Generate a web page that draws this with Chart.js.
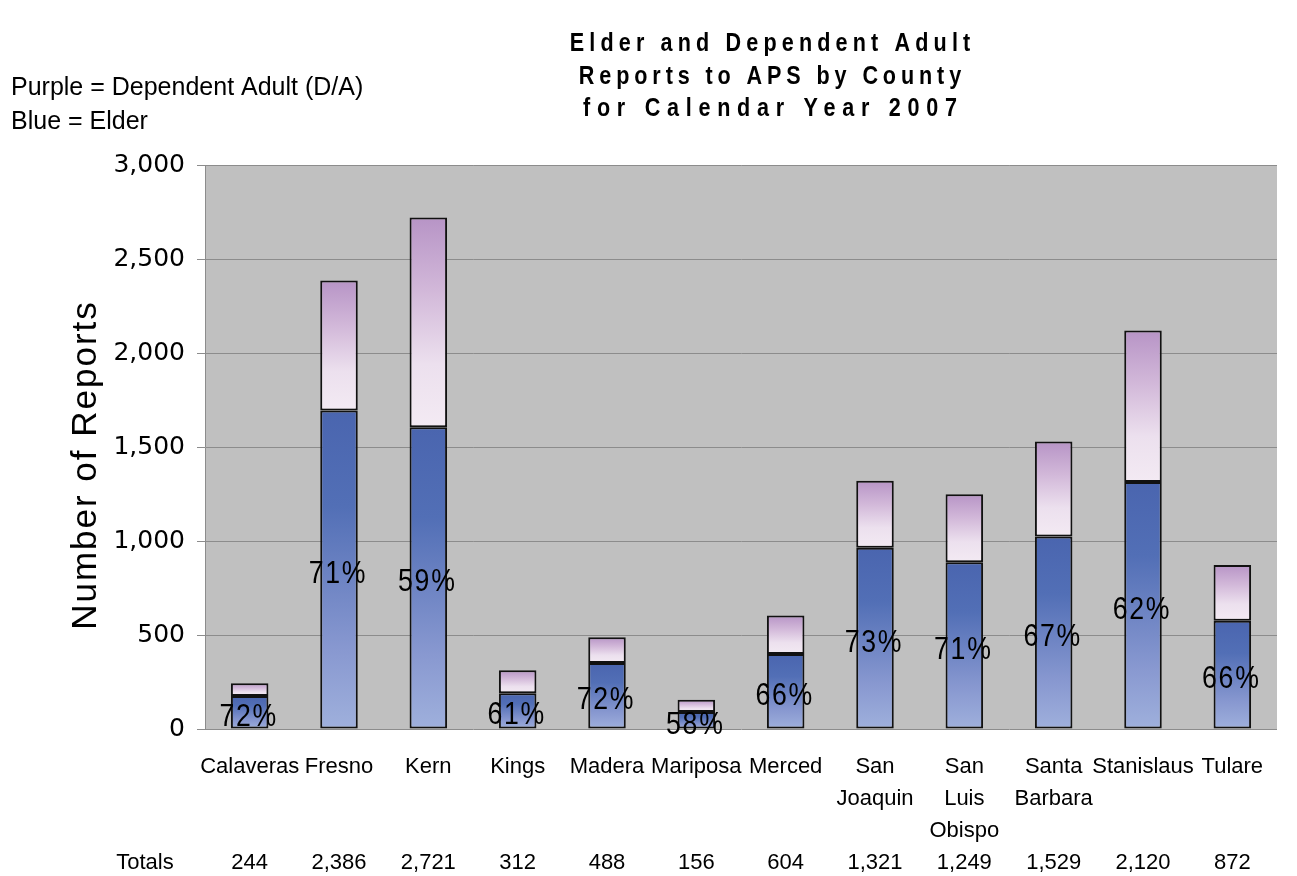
<!DOCTYPE html>
<html>
<head>
<meta charset="utf-8">
<script src="https://cdn.jsdelivr.net/npm/chart.js@4/dist/chart.umd.min.js"></script>
<style>
  html, body { margin: 0; padding: 0; background: #ffffff; }
  #wrap { width: 1297px; height: 876px; position: relative; }
</style>
</head>
<body>
<div id="wrap"><canvas id="c" width="1297" height="876"></canvas></div>
<script>
// County names, each split into the lines shown under its bar
const counties = [
  ['Calaveras'], ['Fresno'], ['Kern'], ['Kings'], ['Madera'], ['Mariposa'],
  ['Merced'], ['San', 'Joaquin'], ['San', 'Luis', 'Obispo'], ['Santa', 'Barbara'],
  ['Stanislaus'], ['Tulare']
];
// Reports of elder abuse (blue) and dependent-adult abuse (purple)
const elderReports = [176, 1694, 1605, 190, 351, 90, 399, 964, 887, 1024, 1314, 576];
const dependentAdultReports = [68, 692, 1116, 122, 137, 66, 205, 357, 362, 505, 806, 296];
// Row of totals printed below the county names
const totals = ['244', '2,386', '2,721', '312', '488', '156', '604', '1,321', '1,249', '1,529', '2,120', '872'];
// Value-axis ticks
const yTicks = [0, 500, 1000, 1500, 2000, 2500, 3000];

const titleLines = ['Elder and Dependent Adult', 'Reports to APS by County', 'for Calendar Year 2007'];
const noteLines = ['Purple = Dependent Adult (D/A)', 'Blue = Elder'];

// Tick labels: name lines, padded so the totals all share the fourth line
const xLabels = counties.map((lines, i) => {
  const out = lines.slice();
  while (out.length < 3) out.push('');
  out.push(totals[i]);
  return out;
});

const SANS = '"Liberation Sans", Arial, sans-serif';

// Vertical gradient spanning one stacked segment, located through the y scale
function segmentGradient(ctx, stops, fallback) {
  const chart = ctx.chart;
  const y = chart.scales && chart.scales.y;
  if (!chart.chartArea || !y || ctx.dataIndex === undefined) return fallback;
  const i = ctx.dataIndex;
  const from = ctx.datasetIndex === 0 ? 0 : elderReports[i];
  const to = ctx.datasetIndex === 0 ? elderReports[i] : elderReports[i] + dependentAdultReports[i];
  const top = y.getPixelForValue(to), bottom = y.getPixelForValue(from);
  if (!isFinite(top) || !isFinite(bottom) || bottom - top < 1) return fallback;
  const g = chart.ctx.createLinearGradient(0, top, 0, bottom);
  stops.forEach(s => g.addColorStop(s[0], s[1]));
  return g;
}

const elderStops = [[0, '#4a65af'], [0.3, '#526fb6'], [0.75, '#8898d0'], [1, '#9fb0dc']];
const daStops = [[0, '#b794c6'], [0.35, '#d2b8d9'], [0.7, '#ece0ee'], [1, '#f3eaf3']];

// Gray plot backdrop
const plotBackground = {
  id: 'plotBackground',
  beforeDraw(chart) {
    const { ctx, chartArea: a } = chart;
    ctx.save();
    ctx.fillStyle = '#c0c0c0';
    ctx.fillRect(a.left, a.top, a.right - a.left, a.bottom - a.top);
    ctx.restore();
  }
};

// Title, colour key, axis title, "Totals" caption and elder share labels
const annotations = {
  id: 'annotations',
  afterDatasetsDraw(chart) {
    const ctx = chart.ctx;
    const meta = chart.getDatasetMeta(0);
    meta.data.forEach((bar, i) => {
      const total = elderReports[i] + dependentAdultReports[i];
      const pct = Math.round(elderReports[i] / total * 100) + '%';
      ctx.save();
      ctx.translate(bar.x - 1, (bar.y + bar.base) / 2 + 5);
      ctx.scale(0.86, 1);
      ctx.fillStyle = '#000';
      ctx.font = '31px ' + SANS;
      ctx.letterSpacing = '2px';
      ctx.textAlign = 'center';
      ctx.textBaseline = 'middle';
      ctx.fillText(pct, 0, 0);
      ctx.restore();
    });
  },
  afterDraw(chart) {
    const ctx = chart.ctx;
    ctx.save();
    ctx.fillStyle = '#000';

    // Chart title, narrow bold letters set wide apart
    const titleBase = [51, 84, 116];
    const titleSpacing = [6.2, 5.9, 8.1];
    titleLines.forEach((t, i) => {
      ctx.save();
      ctx.translate(770 + titleSpacing[i] * 0.83 / 2, titleBase[i]);
      ctx.scale(0.83, 1);
      ctx.font = 'bold 26px ' + SANS;
      ctx.letterSpacing = titleSpacing[i] + 'px';
      ctx.textAlign = 'center';
      ctx.textBaseline = 'alphabetic';
      ctx.fillText(t, 0, 0);
      ctx.restore();
    });

    // Colour key at upper left
    ctx.font = '25px ' + SANS;
    ctx.letterSpacing = '0px';
    ctx.textAlign = 'left';
    ctx.textBaseline = 'alphabetic';
    ctx.fillText(noteLines[0], 11, 95);
    ctx.fillText(noteLines[1], 11, 129);

    // Value-axis title
    ctx.save();
    ctx.translate(96, 465);
    ctx.rotate(-Math.PI / 2);
    ctx.font = '35px ' + SANS;
    ctx.letterSpacing = '2px';
    ctx.textAlign = 'center';
    ctx.textBaseline = 'alphabetic';
    ctx.fillText('Number of Reports', 0, 0);
    ctx.restore();

    // Caption for the totals row
    ctx.font = '22px ' + SANS;
    ctx.letterSpacing = '0px';
    ctx.textAlign = 'center';
    ctx.textBaseline = 'middle';
    ctx.fillText('Totals', 145, 863);
    ctx.restore();
  }
};

new Chart(document.getElementById('c'), {
  type: 'bar',
  data: {
    labels: xLabels,
    datasets: [
      {
        label: 'Elder',
        data: elderReports,
        backgroundColor: (ctx) => segmentGradient(ctx, elderStops, '#6a82c4'),
        borderColor: '#111111',
        borderWidth: 2,
        borderSkipped: false,
        barPercentage: 0.42,
        categoryPercentage: 1.0
      },
      {
        label: 'Dependent Adult',
        data: dependentAdultReports,
        backgroundColor: (ctx) => segmentGradient(ctx, daStops, '#dcc8e0'),
        borderColor: '#111111',
        borderWidth: 2,
        borderSkipped: false,
        barPercentage: 0.42,
        categoryPercentage: 1.0
      }
    ]
  },
  options: {
    responsive: false,
    animation: false,
    devicePixelRatio: 1,
    layout: { padding: { top: 165, right: 20, bottom: 0, left: 0 } },
    plugins: {
      legend: { display: false },
      title: { display: false },
      tooltip: { enabled: false }
    },
    scales: {
      x: {
        stacked: true,
        grid: { display: false, drawTicks: false },
        border: { display: false },
        ticks: {
          color: '#000',
          padding: 22,
          maxRotation: 0,
          autoSkip: false,
          font: { family: SANS, size: 22, lineHeight: '32px' }
        },
        afterFit(scale) { scale.height = 147; }
      },
      y: {
        stacked: true,
        min: 0,
        max: 3000,
        afterBuildTicks(scale) { scale.ticks = yTicks.map(v => ({ value: v })); },
        grid: { color: '#8c8c8c', lineWidth: 1, tickLength: 8, drawTicks: true },
        border: { display: true, color: '#8c8c8c', width: 1 },
        ticks: {
          color: '#000',
          padding: 12,
          font: { family: '"DejaVu Sans", sans-serif', size: 25 },
          callback: (v) => v.toLocaleString('en-US')
        },
        afterFit(scale) { scale.width = 205; }
      }
    }
  },
  plugins: [plotBackground, annotations]
});
</script>
</body>
</html>
